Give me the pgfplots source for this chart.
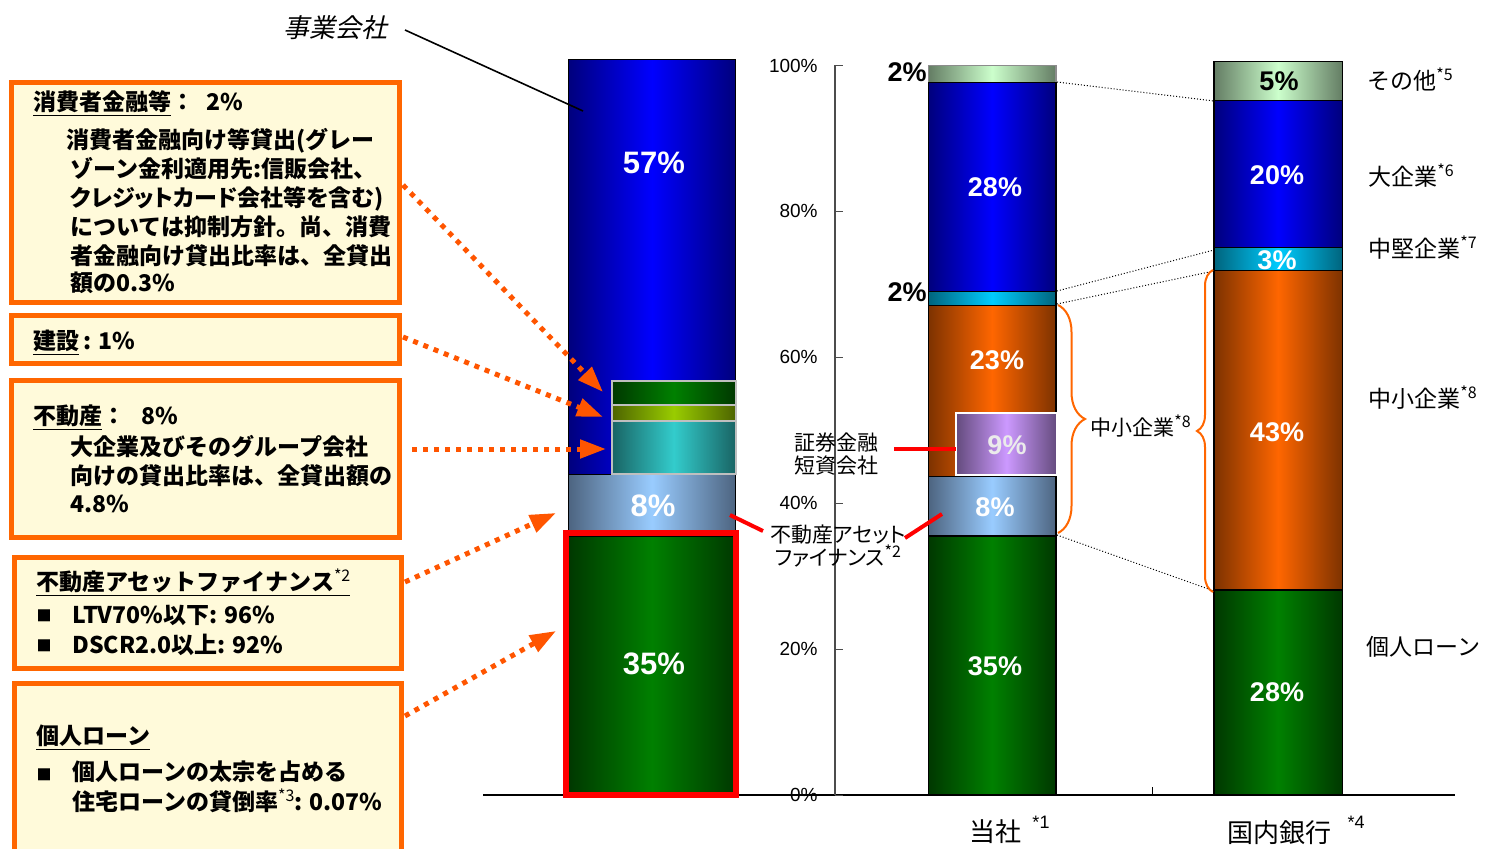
\documentclass[border=0pt]{standalone}
\usepackage{pgfplots}
\pgfplotsset{compat=1.18}
\usepackage{fontspec}
\setmainfont{Liberation Sans}
\newfontfamily\jp{Noto Sans CJK JP}
\newfontfamily\jpit[FakeSlant=0.22]{Noto Sans CJK JP}
\usetikzlibrary{arrows.meta,decorations.pathreplacing}

\definecolor{gGe}{RGB}{0,56,0}       \definecolor{gGm}{RGB}{0,128,0}
\definecolor{gLBe}{RGB}{77,100,128}  \definecolor{gLBm}{RGB}{153,204,255}
\definecolor{gBe}{RGB}{0,0,125}      \definecolor{gBm}{RGB}{0,0,255}
\definecolor{gOe}{RGB}{125,50,0}     \definecolor{gOm}{RGB}{255,102,0}
\definecolor{gCe}{RGB}{0,100,125}    \definecolor{gCm}{RGB}{0,204,255}
\definecolor{gLGe}{RGB}{100,125,100} \definecolor{gLGm}{RGB}{204,255,204}
\definecolor{gPe}{RGB}{100,75,125}   \definecolor{gPm}{RGB}{204,153,255}
\definecolor{gTe}{RGB}{25,100,100}   \definecolor{gTm}{RGB}{51,204,204}
\definecolor{gYe}{RGB}{77,100,0}     \definecolor{gYm}{RGB}{153,204,0}
\definecolor{boxor}{RGB}{255,102,0}
\definecolor{boxfill}{RGB}{255,250,218}
\definecolor{arr}{RGB}{255,85,0}

\pgfplotsset{
  seg/.style 2 args={draw=black, line width=0.6pt, left color=#1, right color=#1, middle color=#2},
  barax/.style={scale only axis, width=486pt, height=364.75pt,
    at={(241.5pt,26.5pt)}, anchor=south west,
    xmin=483, xmax=1455, ymin=0, ymax=100,
    hide axis, clip=false, ybar stacked, bar width=#1},
}
\newcommand\bx{\jp\bfseries\fontsize{11.5}{14}\selectfont}
\newcommand\rl{\jp\fontsize{11.5}{12}\selectfont}
\newcommand\ml{\jp\fontsize{10.5}{11.5}\selectfont}
\newcommand\sups[1]{\raisebox{0.38em}{\mdseries\fontsize{8}{8}\selectfont *#1}}
\newcommand\pct{\bfseries\fontsize{13.5}{14}\selectfont}
\newcommand\pcl{\bfseries\fontsize{15.5}{16}\selectfont}

\begin{document}
\begin{tikzpicture}
\useasboundingbox (0,0) rectangle (742.5pt,424pt);

% baseline
\begin{axis}[scale only axis, width=486pt, height=364.75pt,
  at={(241.5pt,26.5pt)}, anchor=south west,
  xmin=483, xmax=1455, ymin=0, ymax=100,
  axis x line=bottom, axis y line=none,
  axis line style={-, black, line width=0.6pt},
  xtick={1152}, xticklabels={}, tick align=inside,
  major tick length=4pt, tick style={black, line width=0.5pt}]
\addplot[draw=none] coordinates {(483,0)};
\end{axis}

% percent scale
\begin{axis}[scale only axis, width=10pt, height=364.75pt,
  at={(417.5pt,26.5pt)}, anchor=south west,
  xmin=0, xmax=1, ymin=0, ymax=100,
  axis x line=none, axis y line=left,
  axis line style={-, black!70, line width=0.6pt},
  ytick={0,20,...,100}, tick align=inside,
  major tick length=4pt, tick style={black!70, line width=0.5pt},
  yticklabel={\pgfmathprintnumber{\tick}\%},
  yticklabel style={font=\fontsize{9.5}{10}\selectfont, anchor=east, inner sep=0pt, xshift=-8.5pt},
  /pgf/number format/assume math mode=true]
\addplot[draw=none] coordinates {(0,0)};
\end{axis}

% business loans bar
\begin{axis}[barax=167.4]
\addplot[seg={gGe}{gGm}] coordinates {(652,35.4)};
\addplot[seg={gLBe}{gLBm}] coordinates {(652,8.5)};
\addplot[seg={gBe}{gBm}] coordinates {(652,56.9)};
\end{axis}
\begin{axis}[barax=124]
\addplot[draw=none, fill=none] coordinates {(673.8,44.0)};
\addplot[seg={gTe}{gTm}, draw=black!25, line width=1pt] coordinates {(673.8,7.3)};
\addplot[seg={gYe}{gYm}, draw=black!25, line width=1pt] coordinates {(673.8,2.2)};
\addplot[seg={gGe}{gGm}, draw=black!25, line width=1pt] coordinates {(673.8,3.2)};
\end{axis}
\begin{axis}[barax=170]
\addplot[draw=red, fill=none, line width=3.2pt] coordinates {(651,35.9)};
\end{axis}

% 当社
\begin{axis}[barax=127.7]
\addplot[seg={gGe}{gGm}] coordinates {(992.2,35.5)};
\addplot[seg={gLBe}{gLBm}] coordinates {(992.2,8.2)};
\addplot[seg={gOe}{gOm}] coordinates {(992.2,23.4)};
\addplot[seg={gCe}{gCm}] coordinates {(992.2,1.9)};
\addplot[seg={gBe}{gBm}] coordinates {(992.2,28.7)};
\addplot[seg={gLGe}{gLGm}, draw=black!45] coordinates {(992.2,2.3)};
\end{axis}
\begin{axis}[barax=101]
\addplot[draw=none, fill=none] coordinates {(1006.5,43.9)};
\addplot[seg={gPe}{gPm}, draw=white, line width=1pt] coordinates {(1006.5,8.5)};
\end{axis}

% 国内銀行
\begin{axis}[barax=128.3]
\addplot[seg={gGe}{gGm}] coordinates {(1278.2,28.1)};
\addplot[seg={gOe}{gOm}] coordinates {(1278.2,43.8)};
\addplot[seg={gCe}{gCm}] coordinates {(1278.2,3.1)};
\addplot[seg={gBe}{gBm}] coordinates {(1278.2,20.2)};
\addplot[seg={gLGe}{gLGm}] coordinates {(1278.2,5.4)};
\end{axis}

\begin{scope}[x=0.5pt, y=-0.5pt, yshift=424pt,
  tl/.style={anchor=west, inner sep=0pt, text height=0.86em, text depth=0.14em}]
% note boxes
\draw[boxor, line width=2.5pt, fill=boxfill] (11.5,82.5) rectangle (399.5,302.5);
\draw[boxor, line width=2.5pt, fill=boxfill] (11.5,315.5) rectangle (399.5,363.5);
\draw[boxor, line width=2.5pt, fill=boxfill] (11.5,380.5) rectangle (399.5,537.5);
\draw[boxor, line width=2.5pt, fill=boxfill] (14,557.5) rectangle (401.5,668.5);
\draw[boxor, line width=2.5pt, fill=boxfill] (14,683.5) rectangle (401.5,900);

\node[tl, font=\bx] at (33,103) {\underline{消費者金融等}：\hspace{6pt}2\%};
\node[tl, font=\bx] at (66,141) {消費者金融向け等貸出(グレー};
\node[tl, font=\bx] at (70,170) {ゾーン金利適用先:信販会社、};
\node[tl, font=\bx] at (70,199) {\addfontfeature{RawFeature=+palt}クレジットカード会社等を含む)};
\node[tl, font=\bx] at (70,228) {については抑制方針。尚、消費};
\node[tl, font=\bx] at (70,257) {者金融向け貸出比率は、全貸出};
\node[tl, font=\bx] at (70,284) {額の0.3\%};

\node[tl, font=\bx] at (33,342) {\underline{建設}\,: 1\%};

\node[tl, font=\bx] at (33,417) {\underline{不動産}：\hspace{8pt}8\%};
\node[tl, font=\bx] at (70,448) {大企業及びそのグループ会社};
\node[tl, font=\bx] at (70,477) {向けの貸出比率は、全貸出額の};
\node[tl, font=\bx] at (70,505) {4.8\%};

\node[tl, font=\bx] at (36,583) {\underline{不動産アセットファイナンス\sups{2}}};
\node[font=\jp\fontsize{7.5}{8}\selectfont, inner sep=0pt] at (44,616) {■};
\node[tl, font=\bx] at (72,616) {LTV70\%以下: 96\%};
\node[font=\jp\fontsize{7.5}{8}\selectfont, inner sep=0pt] at (44,646) {■};
\node[tl, font=\bx] at (72,646) {DSCR2.0以上: 92\%};

\node[tl, font=\bx] at (36,737) {\underline{個人ローン}};
\node[font=\jp\fontsize{7.5}{8}\selectfont, inner sep=0pt] at (44,775) {■};
\node[tl, font=\bx] at (72,773) {個人ローンの太宗を占める};
\node[tl, font=\bx] at (72,803) {住宅ローンの貸倒率\sups{3}: 0.07\%};

% arrows from the notes
\begin{scope}[arr, line width=2.5pt, dash pattern=on 2.5pt off 3pt]
\draw[-{Triangle[length=13pt, width=9pt]}] (403,185) -- (603,392);
\draw[-{Triangle[length=13pt, width=9pt]}] (403,337) -- (603,417);
\draw[-{Triangle[length=13pt, width=9pt]}] (412,449) -- (606,449);
\draw[-{Triangle[length=13pt, width=9pt]}] (405,582) -- (556,513);
\draw[-{Triangle[length=13pt, width=9pt]}] (405,716) -- (556,631);
\end{scope}

% 事業会社
\node[font=\jpit\fontsize{13}{13}\selectfont, inner sep=0pt] at (335,28) {事業会社};
\draw[black, line width=0.8pt] (405,30) -- (583,111);

% bar labels
\node[font=\pcl, text=white, inner sep=0pt] at (654,163) {57\%};
\node[font=\pcl, text=white, inner sep=0pt] at (653,506) {8\%};
\node[font=\pcl, text=white, inner sep=0pt] at (654,664) {35\%};

\node[font=\pct, inner sep=0pt, anchor=east] at (927,72) {2\%};
\node[font=\pct, inner sep=0pt, anchor=east] at (927,292) {2\%};
\node[font=\pct, text=white, inner sep=0pt] at (995,187) {28\%};
\node[font=\pct, text=white, inner sep=0pt] at (997,360) {23\%};
\node[font=\pct, text=white!92!black, inner sep=0pt] at (1007,445) {9\%};
\node[font=\pct, text=white, inner sep=0pt] at (995,507) {8\%};
\node[font=\pct, text=white, inner sep=0pt] at (995,666) {35\%};

\node[font=\pct, inner sep=0pt] at (1279,81) {5\%};
\node[font=\pct, text=white, inner sep=0pt] at (1277,175) {20\%};
\node[font=\pct, text=white, inner sep=0pt] at (1277,260) {3\%};
\node[font=\pct, text=white, inner sep=0pt] at (1277,432) {43\%};
\node[font=\pct, text=white, inner sep=0pt] at (1277,692) {28\%};

% connectors
\draw[red, line width=2pt] (730,515) -- (763,531);
\draw[red, line width=2pt] (905,538) -- (942,514);
\draw[red, line width=2pt] (894,449) -- (956,449);
\node[font=\ml, align=center, inner sep=0pt] at (836,454) {証券金融\\短資会社};
\node[font=\ml\addfontfeature{RawFeature=+palt}, align=center, inner sep=0pt] at (838,546) {不動産アセット\\ファイナンス\sups{2}};

\begin{scope}[black, line width=0.5pt, densely dotted]
\draw (1057,82) -- (1214,101);
\draw (1057,291) -- (1214,250);
\draw (1057,304) -- (1214,271);
\draw (1057,535) -- (1214,591);
\end{scope}

\draw[boxor, line width=1pt, decorate, decoration={brace, amplitude=13.5pt}] (1058,305) -- (1058,533);
\draw[boxor, line width=1pt, decorate, decoration={brace, amplitude=8pt}] (1213,592) -- (1213,270);
\node[tl, font=\ml] at (1090,428) {中小企業\sups{8}};

% right labels
\node[tl, font=\rl] at (1367,82) {その他\sups{5}};
\node[tl, font=\rl] at (1368,178) {大企業\sups{6}};
\node[tl, font=\rl] at (1368,250) {中堅企業\sups{7}};
\node[tl, font=\rl] at (1368,400) {中小企業\sups{8}};
\node[tl, font=\rl] at (1366,648) {個人ローン};

% category labels
\node[font=\jp\fontsize{13}{13}\selectfont, inner sep=0pt] at (995,832) {当社};
\node[font=\fontsize{9}{9}\selectfont, inner sep=0pt] at (1041,822) {*1};
\node[font=\jp\fontsize{13}{13}\selectfont, inner sep=0pt] at (1279,833) {国内銀行};
\node[font=\fontsize{9}{9}\selectfont, inner sep=0pt] at (1356,822) {*4};
\end{scope}
\end{tikzpicture}
\end{document}
